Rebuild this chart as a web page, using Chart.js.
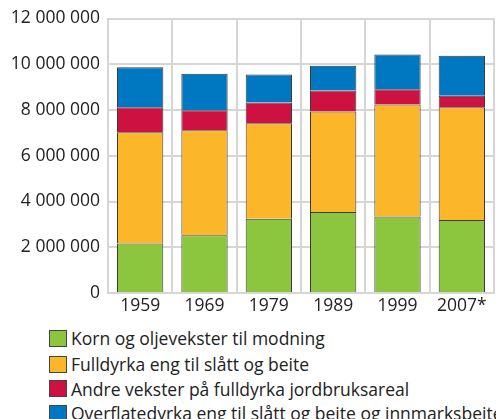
<!DOCTYPE html>
<html>
<head>
<meta charset="utf-8">
<script src="https://cdn.jsdelivr.net/npm/chart.js@4.4.1/dist/chart.umd.min.js"></script>
<style>
  html, body { margin: 0; padding: 0; background: #fff; }
  body { width: 496px; height: 419px; overflow: hidden; font-family: "Open Sans", sans-serif; color: #222; }
  #wrap { position: relative; width: 496px; height: 320px; }
  #legend { position: absolute; left: 49px; top: 326px; margin: 0; padding: 0; list-style: none; }
  #legend li { display: flex; align-items: center; height: 24.5px; font-size: 17.5px; white-space: nowrap; }
  #legend li:first-child { margin-bottom: 1.5px; }
  #legend .box { width: 18px; height: 17px; border: 1px solid #444; margin-right: 4px; box-sizing: border-box; flex: none; }
</style>
</head>
<body>
<div id="wrap"><canvas id="chart"></canvas></div>
<ul id="legend"></ul>
<script>
// Jordbruksareal (dekar) etter bruk
const years = ['1959', '1969', '1979', '1989', '1999', '2007*'];
const korn = [2160000, 2520000, 3250000, 3540000, 3340000, 3190000];
const fulldyrkaEng = [4870000, 4600000, 4170000, 4390000, 4900000, 4930000];
const andreVekster = [1090000, 870000, 910000, 920000, 670000, 500000];
const overflatedyrka = [1750000, 1590000, 1220000, 1080000, 1520000, 1750000];

const seriesNames = [
    'Korn og oljevekster til modning',
    'Fulldyrka eng til slått og beite',
    'Andre vekster på fulldyrka jordbruksareal',
    'Overflatedyrka eng til slått og beite og innmarksbeite'
];
const seriesColors = ['#8cc63f', '#fbb629', '#cd1241', '#0078c1'];
const yTicks = [0, 2000000, 4000000, 6000000, 8000000, 10000000, 12000000];

const fmt = v => String(v).replace(/\B(?=(\d{3})+(?!\d))/g, ' ');
const tickFont = { family: 'Open Sans', size: 17.5 };

const ctx = document.getElementById('chart');
const chart = new Chart(ctx, {
    type: 'bar',
    data: {
        labels: years,
        datasets: [korn, fulldyrkaEng, andreVekster, overflatedyrka].map((d, i) => ({
            label: seriesNames[i],
            data: d,
            backgroundColor: seriesColors[i],
            borderColor: '#3a3a3a',
            borderWidth: 1,
            barPercentage: 0.72,
            categoryPercentage: 1
        }))
    },
    options: {
        responsive: true,
        maintainAspectRatio: false,
        animation: false,
        layout: { padding: { top: 18, right: 2, left: 0, bottom: 0 } },
        plugins: { legend: { display: false }, tooltip: { enabled: false } },
        scales: {
            x: {
                stacked: true,
                grid: { color: '#d6d6d6', lineWidth: 2, drawTicks: false, offset: true },
                border: { color: '#d6d6d6', width: 2 },
                ticks: { color: '#222', padding: 3, font: tickFont },
                afterFit: s => { s.height = 27; }
            },
            y: {
                stacked: true,
                min: 0,
                max: 12000000,
                afterBuildTicks: s => { s.ticks = yTicks.map(v => ({ value: v })); },
                grid: { color: '#d6d6d6', lineWidth: 2, drawTicks: false },
                border: { color: '#d6d6d6', width: 2 },
                ticks: { color: '#222', padding: 8, font: tickFont, callback: v => fmt(v) },
                afterFit: s => { s.width = 108; }
            }
        }
    }
});

// legend as html, built from the chart datasets
const legendEl = document.getElementById('legend');
chart.data.datasets.forEach(ds => {
    const li = document.createElement('li');
    const box = document.createElement('span');
    box.className = 'box';
    box.style.background = ds.backgroundColor;
    li.appendChild(box);
    li.appendChild(document.createTextNode(ds.label));
    legendEl.appendChild(li);
});
</script>
</body>
</html>
